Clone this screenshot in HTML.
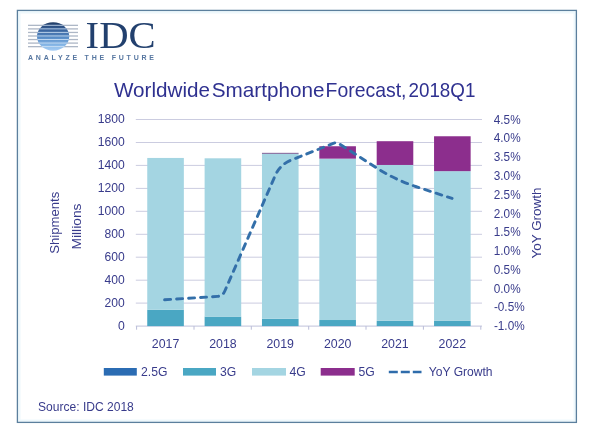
<!DOCTYPE html><html><head><meta charset="utf-8"><title>Worldwide Smartphone Forecast, 2018Q1</title>
<style>html,body{margin:0;padding:0;background:#ffffff;}svg{display:block}text{font-family:"Liberation Sans",sans-serif;fill:#383b8b}</style></head><body>
<svg width="600" height="436" viewBox="0 0 600 436">
<rect x="0" y="0" width="600" height="436" fill="#ffffff"/>
<rect x="19" y="12" width="556" height="409" fill="#ffffff" stroke="#eef8fc" stroke-width="3"/>
<rect x="17.4" y="10.4" width="559" height="412" fill="none" stroke="#5b7f9d" stroke-width="1.3"/>
<g id="logo">
<defs><clipPath id="gc"><ellipse cx="53.1" cy="36.5" rx="16.1" ry="14.2"/></clipPath>
<linearGradient id="gg" x1="0" y1="0" x2="0" y2="1"><stop offset="0" stop-color="#1f3a63"/><stop offset="0.25" stop-color="#37609a"/><stop offset="0.55" stop-color="#5a8ec8"/><stop offset="0.8" stop-color="#86b6e6"/><stop offset="1" stop-color="#a6cdf5"/></linearGradient></defs>
<rect x="28" y="24.70" width="50" height="1.3" fill="#adb7c6"/>
<rect x="28" y="28.25" width="50" height="1.3" fill="#adb7c6"/>
<rect x="28" y="31.80" width="50" height="1.3" fill="#adb7c6"/>
<rect x="28" y="35.35" width="50" height="1.3" fill="#adb7c6"/>
<rect x="28" y="38.90" width="50" height="1.3" fill="#adb7c6"/>
<rect x="28" y="42.45" width="50" height="1.3" fill="#adb7c6"/>
<rect x="28" y="46.00" width="50" height="1.3" fill="#adb7c6"/>
<ellipse cx="53.1" cy="36.5" rx="16.1" ry="14.2" fill="url(#gg)"/>
<g clip-path="url(#gc)">
<rect x="30" y="24.80" width="46" height="1.0" fill="#d4e6f8" fill-opacity="0.8"/>
<rect x="30" y="28.35" width="46" height="1.0" fill="#d4e6f8" fill-opacity="0.8"/>
<rect x="30" y="31.90" width="46" height="1.0" fill="#d4e6f8" fill-opacity="0.8"/>
<rect x="30" y="35.45" width="46" height="1.0" fill="#d4e6f8" fill-opacity="0.8"/>
<rect x="30" y="39.00" width="46" height="1.0" fill="#d4e6f8" fill-opacity="0.8"/>
<rect x="30" y="42.55" width="46" height="1.0" fill="#d4e6f8" fill-opacity="0.8"/>
<rect x="30" y="46.10" width="46" height="1.0" fill="#d4e6f8" fill-opacity="0.8"/>
</g>
<text x="85.6" y="47.9" font-size="37" textLength="70" lengthAdjust="spacingAndGlyphs" style="font-family:'Liberation Serif',serif;fill:#22406e">IDC</text>
<text x="28" y="60.4" font-size="7" textLength="126" lengthAdjust="spacing" style="fill:#5676a0;font-weight:bold">ANALYZE THE FUTURE</text>
</g>
<text x="114.0" y="97" font-size="20.6" textLength="96.0" lengthAdjust="spacingAndGlyphs" style="fill:#2f3190">Worldwide</text>
<text x="211.7" y="97" font-size="20.6" textLength="112.9" lengthAdjust="spacingAndGlyphs" style="fill:#2f3190">Smartphone</text>
<text x="325.6" y="97" font-size="20.6" textLength="80.9" lengthAdjust="spacingAndGlyphs" style="fill:#2f3190">Forecast,</text>
<text x="408.5" y="97" font-size="20.6" textLength="66.9" lengthAdjust="spacingAndGlyphs" style="fill:#2f3190">2018Q1</text>
<line x1="135.8" y1="326.1" x2="482.0" y2="326.1" stroke="#bfc1da" stroke-width="1"/>
<text x="118.0" y="329.7" font-size="12.3" textLength="6.8" lengthAdjust="spacingAndGlyphs">0</text>
<line x1="135.8" y1="303.1" x2="482.0" y2="303.1" stroke="#cbcce0" stroke-width="1"/>
<text x="104.5" y="306.7" font-size="12.3" textLength="20.2" lengthAdjust="spacingAndGlyphs">200</text>
<line x1="135.8" y1="280.2" x2="482.0" y2="280.2" stroke="#cbcce0" stroke-width="1"/>
<text x="104.5" y="283.8" font-size="12.3" textLength="20.2" lengthAdjust="spacingAndGlyphs">400</text>
<line x1="135.8" y1="257.2" x2="482.0" y2="257.2" stroke="#cbcce0" stroke-width="1"/>
<text x="104.5" y="260.8" font-size="12.3" textLength="20.2" lengthAdjust="spacingAndGlyphs">600</text>
<line x1="135.8" y1="234.3" x2="482.0" y2="234.3" stroke="#cbcce0" stroke-width="1"/>
<text x="104.5" y="237.9" font-size="12.3" textLength="20.2" lengthAdjust="spacingAndGlyphs">800</text>
<line x1="135.8" y1="211.3" x2="482.0" y2="211.3" stroke="#cbcce0" stroke-width="1"/>
<text x="97.7" y="214.9" font-size="12.3" textLength="27.0" lengthAdjust="spacingAndGlyphs">1000</text>
<line x1="135.8" y1="188.4" x2="482.0" y2="188.4" stroke="#cbcce0" stroke-width="1"/>
<text x="97.7" y="192.0" font-size="12.3" textLength="27.0" lengthAdjust="spacingAndGlyphs">1200</text>
<line x1="135.8" y1="165.4" x2="482.0" y2="165.4" stroke="#cbcce0" stroke-width="1"/>
<text x="97.7" y="169.0" font-size="12.3" textLength="27.0" lengthAdjust="spacingAndGlyphs">1400</text>
<line x1="135.8" y1="142.5" x2="482.0" y2="142.5" stroke="#cbcce0" stroke-width="1"/>
<text x="97.7" y="146.1" font-size="12.3" textLength="27.0" lengthAdjust="spacingAndGlyphs">1600</text>
<line x1="135.8" y1="119.5" x2="482.0" y2="119.5" stroke="#cbcce0" stroke-width="1"/>
<text x="97.7" y="123.1" font-size="12.3" textLength="27.0" lengthAdjust="spacingAndGlyphs">1800</text>
<line x1="136.6" y1="326.1" x2="136.6" y2="329.7" stroke="#b9bcd8" stroke-width="1"/>
<line x1="194.0" y1="326.1" x2="194.0" y2="329.7" stroke="#b9bcd8" stroke-width="1"/>
<line x1="251.3" y1="326.1" x2="251.3" y2="329.7" stroke="#b9bcd8" stroke-width="1"/>
<line x1="308.7" y1="326.1" x2="308.7" y2="329.7" stroke="#b9bcd8" stroke-width="1"/>
<line x1="366.0" y1="326.1" x2="366.0" y2="329.7" stroke="#b9bcd8" stroke-width="1"/>
<line x1="423.4" y1="326.1" x2="423.4" y2="329.7" stroke="#b9bcd8" stroke-width="1"/>
<line x1="480.8" y1="326.1" x2="480.8" y2="329.7" stroke="#b9bcd8" stroke-width="1"/>
<rect x="147.25" y="309.69" width="36.60" height="16.41" fill="#4aa7c3"/>
<rect x="147.25" y="157.95" width="36.60" height="151.73" fill="#a4d5e2"/>
<text x="151.8" y="348.2" font-size="12.7" textLength="27.5" lengthAdjust="spacingAndGlyphs">2017</text>
<rect x="204.61" y="316.57" width="36.60" height="9.53" fill="#4aa7c3"/>
<rect x="204.61" y="158.30" width="36.60" height="158.27" fill="#a4d5e2"/>
<text x="209.2" y="348.2" font-size="12.7" textLength="27.5" lengthAdjust="spacingAndGlyphs">2018</text>
<rect x="261.97" y="318.75" width="36.60" height="7.35" fill="#4aa7c3"/>
<rect x="261.97" y="153.59" width="36.60" height="165.16" fill="#a4d5e2"/>
<rect x="261.97" y="152.83" width="36.60" height="1" fill="#7f5f96"/>
<text x="266.5" y="348.2" font-size="12.7" textLength="27.5" lengthAdjust="spacingAndGlyphs">2019</text>
<rect x="319.33" y="320.02" width="36.60" height="6.08" fill="#4aa7c3"/>
<rect x="319.33" y="158.64" width="36.60" height="161.37" fill="#a4d5e2"/>
<rect x="319.33" y="146.25" width="36.60" height="12.40" fill="#8c2e8d"/>
<text x="323.9" y="348.2" font-size="12.7" textLength="27.5" lengthAdjust="spacingAndGlyphs">2020</text>
<rect x="376.69" y="320.82" width="36.60" height="5.28" fill="#4aa7c3"/>
<rect x="376.69" y="164.96" width="36.60" height="155.86" fill="#a4d5e2"/>
<rect x="376.69" y="141.20" width="36.60" height="23.76" fill="#8c2e8d"/>
<text x="381.2" y="348.2" font-size="12.7" textLength="27.5" lengthAdjust="spacingAndGlyphs">2021</text>
<rect x="434.05" y="320.94" width="36.60" height="5.16" fill="#4aa7c3"/>
<rect x="434.05" y="171.15" width="36.60" height="149.78" fill="#a4d5e2"/>
<rect x="434.05" y="136.26" width="36.60" height="34.89" fill="#8c2e8d"/>
<text x="438.6" y="348.2" font-size="12.7" textLength="27.5" lengthAdjust="spacingAndGlyphs">2022</text>
<text x="493.8" y="123.6" font-size="12.2" textLength="26.8" lengthAdjust="spacingAndGlyphs">4.5%</text>
<text x="493.8" y="142.4" font-size="12.2" textLength="26.8" lengthAdjust="spacingAndGlyphs">4.0%</text>
<text x="493.8" y="161.2" font-size="12.2" textLength="26.8" lengthAdjust="spacingAndGlyphs">3.5%</text>
<text x="493.8" y="179.9" font-size="12.2" textLength="26.8" lengthAdjust="spacingAndGlyphs">3.0%</text>
<text x="493.8" y="198.7" font-size="12.2" textLength="26.8" lengthAdjust="spacingAndGlyphs">2.5%</text>
<text x="493.8" y="217.5" font-size="12.2" textLength="26.8" lengthAdjust="spacingAndGlyphs">2.0%</text>
<text x="493.8" y="236.3" font-size="12.2" textLength="26.8" lengthAdjust="spacingAndGlyphs">1.5%</text>
<text x="493.8" y="255.1" font-size="12.2" textLength="26.8" lengthAdjust="spacingAndGlyphs">1.0%</text>
<text x="493.8" y="273.9" font-size="12.2" textLength="26.8" lengthAdjust="spacingAndGlyphs">0.5%</text>
<text x="493.8" y="292.6" font-size="12.2" textLength="26.8" lengthAdjust="spacingAndGlyphs">0.0%</text>
<text x="493.9" y="311.4" font-size="12.2" textLength="30.8" lengthAdjust="spacingAndGlyphs">-0.5%</text>
<text x="493.9" y="330.2" font-size="12.2" textLength="30.8" lengthAdjust="spacingAndGlyphs">-1.0%</text>
<path d="M164.6,299.8 L217.6,296.4 Q222.6,296.0 224.6,291.5 L275.2,175.6 Q280.0,164.6 291.1,160.1 L333.8,143.2 Q336.6,142.0 339.1,143.7 L376.2,167.7 Q394.7,179.6 415.6,186.5 L452.1,198.4" fill="none" stroke="#336fa9" stroke-width="2.9" stroke-dasharray="6 6" stroke-linecap="round" stroke-linejoin="round"/>
<text transform="translate(58.8,222.7) rotate(-90)" font-size="12.6" text-anchor="middle" textLength="62" lengthAdjust="spacingAndGlyphs">Shipments</text>
<text transform="translate(81.2,226.5) rotate(-90)" font-size="12.6" text-anchor="middle" textLength="46" lengthAdjust="spacingAndGlyphs">Millions</text>
<text transform="translate(541,223) rotate(-90)" font-size="12.6" text-anchor="middle" textLength="71" lengthAdjust="spacingAndGlyphs">YoY Growth</text>
<rect x="103.8" y="368" width="33.0" height="7.6" fill="#2b6cb3"/>
<text x="141.0" y="376.3" font-size="12.2">2.5G</text>
<rect x="183.0" y="368" width="33.0" height="7.6" fill="#4aa7c3"/>
<text x="220.0" y="376.3" font-size="12.2">3G</text>
<rect x="252.0" y="368" width="34.0" height="7.6" fill="#a4d5e2"/>
<text x="289.4" y="376.3" font-size="12.2">4G</text>
<rect x="320.7" y="368" width="34.0" height="7.6" fill="#8c2e8d"/>
<text x="358.6" y="376.3" font-size="12.2">5G</text>
<line x1="388.8" y1="372" x2="421.5" y2="372" stroke="#2f6cab" stroke-width="2.6" stroke-dasharray="9 3"/>
<text x="428.8" y="376.3" font-size="12.2" textLength="63.8" lengthAdjust="spacingAndGlyphs">YoY Growth</text>
<text x="38" y="411.3" font-size="12.4" textLength="95.8" lengthAdjust="spacingAndGlyphs">Source: IDC 2018</text>
</svg></body></html>
